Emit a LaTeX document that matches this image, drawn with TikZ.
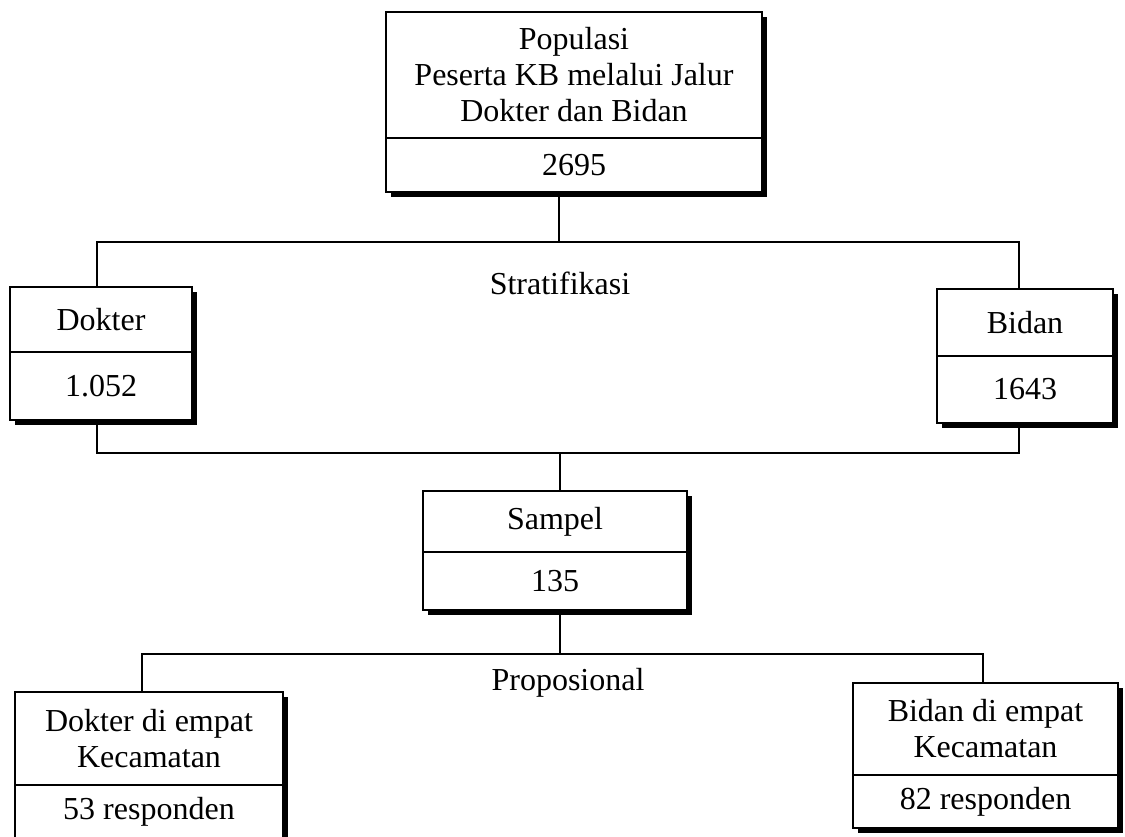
\documentclass[tikz,border=0pt]{standalone}
\usepackage{fontspec}
\setmainfont{Liberation Serif}
\usetikzlibrary{shadows}
\begin{document}
\begin{tikzpicture}[x=1pt,y=-1pt,
  part/.style={draw, line width=1.7pt, fill=white, inner sep=0pt, outer sep=0pt,
    anchor=north west, align=center, font=\fontsize{32}{36}\selectfont,
    drop shadow={shadow xshift=5pt, shadow yshift=-5pt, opacity=1, fill=black}},
  link/.style={line width=1.7pt},
  lab/.style={font=\fontsize{32}{36}\selectfont}]
\useasboundingbox (0,0) rectangle (1125,837);

% junction coordinates
\coordinate (j1) at (559,242);
\coordinate (h1l) at (97,242);
\coordinate (h1r) at (1019,242);
\coordinate (h2l) at (97,453);
\coordinate (h2r) at (1019,453);
\coordinate (j2) at (560,453);
\coordinate (j3) at (560,654);
\coordinate (h3l) at (142,654);
\coordinate (h3r) at (983,654);

% boxes
\node[part, minimum width=376pt, minimum height=126pt] (pop) at (386,12) {Populasi\\Peserta KB melalui Jalur\\Dokter dan Bidan};
\node[part, minimum width=376pt, minimum height=54pt] (popn) at (386,138) {2695};

\node[part, minimum width=182pt, minimum height=65pt] (dok) at (10,287) {Dokter};
\node[part, minimum width=182pt, minimum height=68pt] (dokn) at (10,352) {1.052};

\node[part, minimum width=176pt, minimum height=67pt] (bid) at (937,289) {Bidan};
\node[part, minimum width=176pt, minimum height=67pt] (bidn) at (937,356) {1643};

\node[part, minimum width=264pt, minimum height=61pt] (sam) at (423,491) {Sampel};
\node[part, minimum width=264pt, minimum height=58pt] (samn) at (423,552) {135};

\node[part, minimum width=268pt, minimum height=93pt] (dk) at (15,692) {Dokter di empat\\Kecamatan};
\node[part, minimum width=268pt, minimum height=70pt] (dkn) at (15,785) {};
\node[lab] (dknt) at (149,812) {53 responden};

\node[part, minimum width=265pt, minimum height=92pt] (bk) at (853,683) {Bidan di empat\\Kecamatan};
\node[part, minimum width=265pt, minimum height=53pt] (bkn) at (853,775) {82 responden};

% labels
\node[lab] (strat) at (560,283) {Stratifikasi};
\node[lab] (prop) at (568,683) {Proposional};

% connectors
\draw[link] (popn.south -| j1) -- (j1);
\draw[link] (dok.north -| h1l) -- (h1l) -- (h1r) -- (bid.north -| h1r);
\draw[link] (dokn.south -| h2l) -- (h2l) -- (h2r) -- (bidn.south -| h2r);
\draw[link] (j2) -- (sam.north -| j2);
\draw[link] (samn.south -| j3) -- (j3);
\draw[link] (dk.north -| h3l) -- (h3l) -- (h3r) -- (bk.north -| h3r);
\end{tikzpicture}
\end{document}
